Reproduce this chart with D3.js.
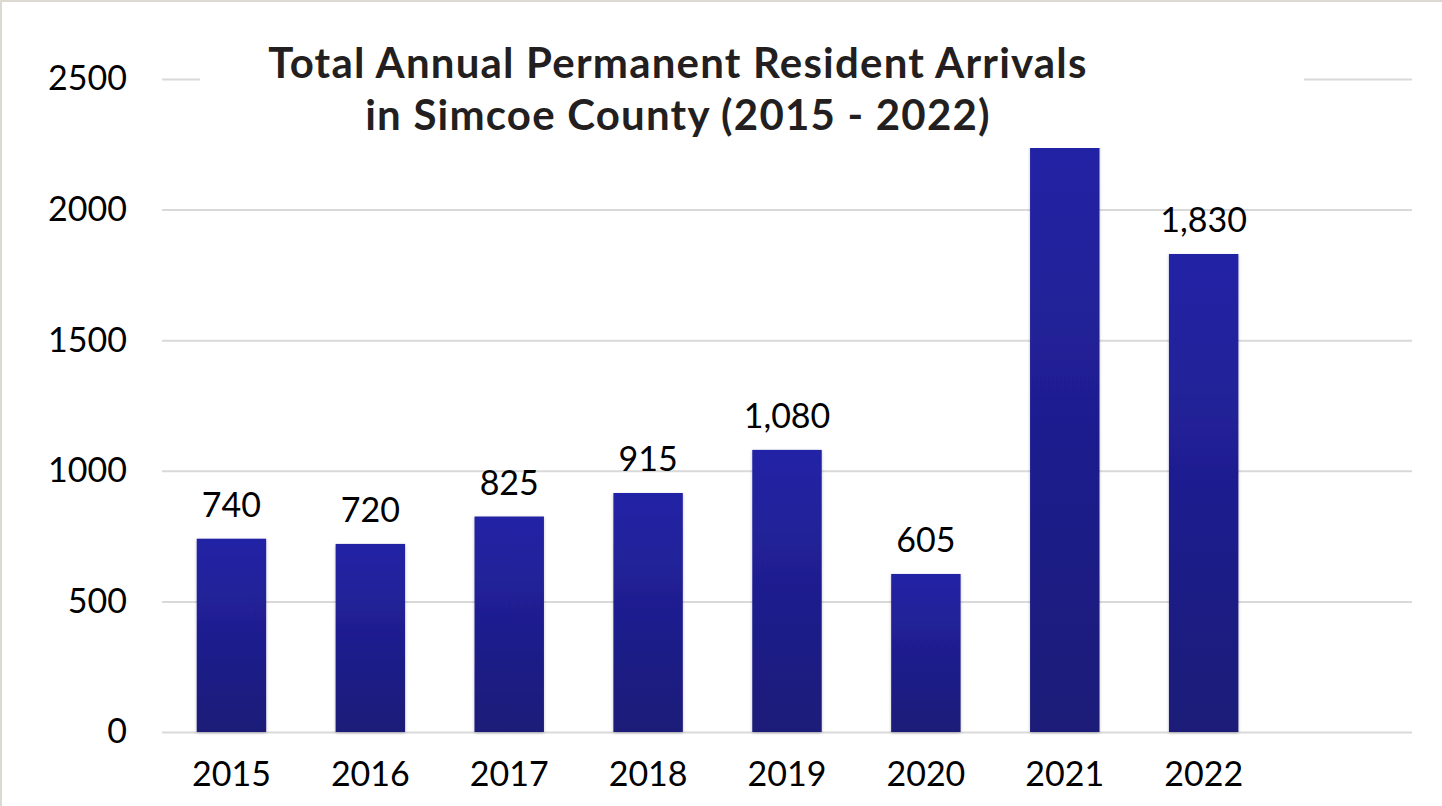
<!DOCTYPE html>
<html>
<head>
<meta charset="utf-8">
<script src="https://cdn.jsdelivr.net/npm/d3@7"></script>
<style>
  body { margin: 0; background: #fff; }
  svg { display: block; }
</style>
</head>
<body>
<svg id="bar" width="1442" height="806"></svg>
<script>
// data
const years = ["2015", "2016", "2017", "2018", "2019", "2020", "2021", "2022"];
const arrivals = [740, 720, 825, 915, 1080, 605, 2300, 1830];
const yTicks = [0, 500, 1000, 1500, 2000, 2500];
const titleLines = ["Total Annual Permanent Resident Arrivals", "in Simcoe County (2015 - 2022)"];

const svg = d3.select("svg#bar");
const W = 1442, H = 806;
const margin = { left: 162, right: 30, top: 79, bottom: 74 };
const plotW = W - margin.left - margin.right;
const plotH = H - margin.top - margin.bottom;
const titleBottom = 148;

// frame lines of the slide
svg.append("rect").attr("x", 0).attr("y", 0).attr("width", W).attr("height", 2).attr("fill", "#dcd9d3");
svg.append("rect").attr("x", 0).attr("y", 0).attr("width", 2).attr("height", H).attr("fill", "#dcd9d3");

const defs = svg.append("defs");
const grad = defs.append("linearGradient")
    .attr("id", "barGrad").attr("x1", 0).attr("y1", 0).attr("x2", 0).attr("y2", 1);
grad.append("stop").attr("offset", "0%").attr("stop-color", "#2323a6");
grad.append("stop").attr("offset", "100%").attr("stop-color", "#1b1a78");
const shadow = defs.append("filter").attr("id", "shadow")
    .attr("x", "-20%").attr("y", "-5%").attr("width", "140%").attr("height", "110%");
shadow.append("feDropShadow").attr("dx", 0).attr("dy", 1).attr("stdDeviation", 1.5)
    .attr("flood-color", "#000").attr("flood-opacity", 0.25);

const chart = svg.append("g").attr("transform", `translate(${margin.left},${margin.top})`);

// scales (9 slots, last one empty as in the source)
const xScale = d3.scaleBand().domain(years.concat([""])).range([0, plotW]).paddingInner(0.5).paddingOuter(0.25);
const yScale = d3.scaleLinear().domain([0, 2500]).range([plotH, 0]);

// gridlines
chart.append("g")
    .attr("class", "gridlines")
    .call(d3.axisLeft(yScale).tickValues(yTicks).tickSize(-plotW).tickFormat(""))
    .call(g => g.select(".domain").remove())
    .call(g => g.selectAll("line").attr("stroke", "#d9d9d9").attr("stroke-width", 2));

// y labels
chart.append("g")
    .attr("transform", "translate(-32,0)")
    .call(d3.axisLeft(yScale).tickValues(yTicks).tickSize(0).tickFormat(d3.format("d")))
    .call(g => g.select(".domain").remove())
    .call(g => g.selectAll("text")
        .attr("fill", "#000")
        .style("font-family", "Lato, 'Open Sans', sans-serif")
        .style("font-size", "34px"));

// x labels
chart.append("g")
    .attr("transform", `translate(0,${plotH})`)
    .call(d3.axisBottom(xScale).tickSize(0).tickPadding(30))
    .call(g => g.select(".domain").remove())
    .call(g => g.selectAll("text")
        .attr("fill", "#000")
        .style("font-family", "Lato, 'Open Sans', sans-serif")
        .style("font-size", "34px"));

// bars
chart.selectAll("rect.bar")
    .data(years)
    .join("rect")
    .attr("class", "bar")
    .attr("x", d => xScale(d))
    .attr("width", xScale.bandwidth())
    .attr("y", (d, i) => yScale(arrivals[i]))
    .attr("height", (d, i) => plotH - yScale(arrivals[i]))
    .attr("fill", "url(#barGrad)")
    .attr("filter", "url(#shadow)");

// value labels (the one that would sit under the title box is hidden there)
const labelled = years.map((d, i) => ({ year: d, value: arrivals[i] }))
    .filter(d => margin.top + yScale(d.value) - 50 > titleBottom);
chart.selectAll("text.value")
    .data(labelled)
    .join("text")
    .attr("class", "value")
    .attr("x", d => xScale(d.year) + xScale.bandwidth() / 2)
    .attr("y", d => yScale(d.value) - 22)
    .attr("text-anchor", "middle")
    .style("font-family", "Lato, 'Open Sans', sans-serif")
    .style("font-size", "34px")
    .attr("fill", "#000")
    .text(d => d3.format(",")(d.value));

// title box covers the top of the plot
svg.append("rect")
    .attr("x", 200).attr("y", 30).attr("width", 1104).attr("height", titleBottom - 30)
    .attr("fill", "#fff");
svg.append("text")
    .attr("x", 678).attr("y", 78)
    .attr("text-anchor", "middle")
    .style("font-family", "Lato, 'Open Sans', sans-serif")
    .style("font-weight", 700)
    .style("font-size", "42px")
    .style("letter-spacing", "1.2px")
    .attr("fill", "#231f20")
    .selectAll("tspan")
    .data(titleLines)
    .join("tspan")
    .attr("x", 678)
    .attr("dy", (d, i) => i === 0 ? 0 : 52)
    .text(d => d);
</script>
</body>
</html>
